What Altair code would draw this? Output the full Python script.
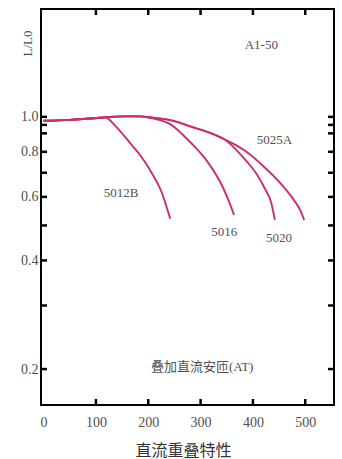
import altair as alt
import pandas as pd

# ---- data ----
x_5012B = [0, 50, 108, 117, 137, 165, 184, 203, 226, 238, 242]
y_5012B = [0.975, 0.981, 0.994, 0.997, 0.944, 0.847, 0.785, 0.713, 0.616, 0.545, 0.522]

x_5016 = [0, 50, 108, 117, 156, 184, 203, 244, 266, 289, 312, 343, 356, 364]
y_5016 = [0.975, 0.981, 0.994, 0.997, 1.003, 1.003, 0.994, 0.950, 0.892, 0.826, 0.755, 0.636, 0.574, 0.535]

x_5020 = [0, 50, 108, 117, 156, 184, 203, 244, 289, 318, 347, 370, 389, 408, 423, 435, 442]
y_5020 = [0.975, 0.981, 0.994, 0.997, 1.003, 1.003, 0.997, 0.978, 0.932, 0.903, 0.864, 0.805, 0.750, 0.691, 0.632, 0.578, 0.518]

x_5025A = [0, 50, 108, 117, 156, 184, 203, 244, 289, 318, 347, 370, 385, 419, 452, 475, 490, 498]
y_5025A = [0.975, 0.981, 0.994, 0.997, 1.003, 1.003, 0.997, 0.978, 0.932, 0.903, 0.864, 0.831, 0.805, 0.732, 0.656, 0.597, 0.553, 0.518]

x_ticks = [100, 200, 300, 400, 500]
x_labels = [0, 100, 200, 300, 400, 500]
y_ticks = [1.0, 0.95, 0.9, 0.8, 0.7, 0.6, 0.5, 0.4, 0.3, 0.2]
y_labels = [0.2, 0.4, 0.6, 0.8, 1.0]

note_text = ["A1-50", "5025A", "5012B", "5016", "5020", "叠加直流安匝(AT)"]
note_x = [416, 441, 148, 345, 450, 303]
note_y = [1.58, 0.864, 0.616, 0.480, 0.462, 0.203]

# ---- tables ----
rows = []
for name, xs, ys in [("5012B", x_5012B, y_5012B), ("5016", x_5016, y_5016),
                     ("5020", x_5020, y_5020), ("5025A", x_5025A, y_5025A)]:
    for i, (a, b) in enumerate(zip(xs, ys)):
        rows.append({"series": name, "x": a, "y": b, "order": i})
curves = pd.DataFrame(rows)
xt = pd.DataFrame({"x": x_ticks})
yt = pd.DataFrame({"y": y_ticks})
notes = pd.DataFrame({"label": note_text, "x": note_x, "y": note_y})

W, H = 293, 396
SERIF = "Liberation Serif, Noto Sans CJK SC"
GREY = "#505050"
xscale = alt.Scale(domain=[-5, 555], nice=False, zero=False)
yscale = alt.Scale(type="log", domain=[0.159, 1.99], nice=False)

xaxis = alt.Axis(
    values=x_labels, ticks=False, domain=False, grid=False,
    labelFont=SERIF, labelFontSize=14, labelColor=GREY, labelPadding=10,
    title="直流重叠特性", titleFont=SERIF, titleFontSize=16,
    titleFontWeight="normal", titleColor="#333333",
    titleX=142, titleY=37, titleBaseline="top")
yaxis = alt.Axis(
    values=y_labels, format=".1f", ticks=False, domain=False, grid=False,
    labelFont=SERIF, labelFontSize=14, labelColor=GREY, labelPadding=3,
    title="L/L0", titleFont=SERIF, titleFontSize=13, titleFontWeight="normal",
    titleColor=GREY, titleAngle=270, titleX=-14, titleY=34,
    titleAlign="center", titleBaseline="middle")

X = lambda: alt.X("x:Q", scale=xscale, axis=xaxis)
Y = lambda: alt.Y("y:Q", scale=yscale, axis=yaxis)

lines = alt.Chart(curves).mark_line(
    color="#cc2d6f", strokeWidth=1.9, interpolate="monotone"
).encode(x=X(), y=Y(), detail="series:N", order="order:Q")

tick_style = dict(color="black", strokeWidth=2.5)
bottom_ticks = alt.Chart(xt).mark_rule(**tick_style).encode(
    x=X(), y=alt.value(H), y2=alt.value(H - 6))
top_ticks = alt.Chart(xt).mark_rule(**tick_style).encode(
    x=X(), y=alt.value(0), y2=alt.value(6))
left_ticks = alt.Chart(yt).mark_rule(**tick_style).encode(
    y=Y(), x=alt.value(0), x2=alt.value(6))
right_ticks = alt.Chart(yt).mark_rule(**tick_style).encode(
    y=Y(), x=alt.value(W), x2=alt.value(W - 6))

texts = alt.Chart(notes).mark_text(
    font=SERIF, fontSize=13, color=GREY, align="center", baseline="middle"
).encode(x=X(), y=Y(), text="label:N")

chart = alt.layer(lines, bottom_ticks, top_ticks, left_ticks, right_ticks, texts).properties(
    width=W, height=H,
    autosize=alt.AutoSizeParams(type="none"),
    padding={"left": 41, "top": 9, "right": 8, "bottom": 54},
    background="white",
).configure_view(stroke="black", strokeWidth=2)

chart.save("out.html", embed_options={"renderer": "svg", "actions": False})
